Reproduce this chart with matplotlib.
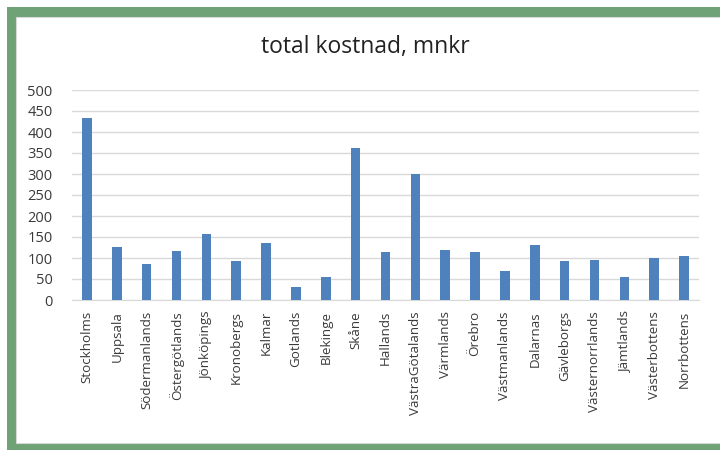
import matplotlib.pyplot as plt
import numpy as np
from matplotlib.patches import Rectangle

regions = ["Stockholms", "Uppsala", "Södermanlands", "Östergötlands", "Jönköpings",
           "Kronobergs", "Kalmar", "Gotlands", "Blekinge", "Skåne", "Hallands",
           "VästraGötalands", "Värmlands", "Örebro", "Västmanlands", "Dalarnas",
           "Gävleborgs", "Västernorrlands", "Jämtlands", "Västerbottens", "Norrbottens"]
cost = [433, 127, 85, 117, 156, 94, 135, 31, 55, 362, 114,
        299, 120, 115, 69, 132, 92, 95, 54, 100, 105]
yticks = [0, 50, 100, 150, 200, 250, 300, 350, 400, 450, 500]

plt.rcParams['font.family'] = ['Open Sans', 'DejaVu Sans']

fig = plt.figure(figsize=(7.2, 4.5), dpi=100)
W, H = 720, 450

# green frame (left, top, bottom), cut off at the right
fig.add_artist(Rectangle((7 / W, 0), 1, 443 / H, transform=fig.transFigure,
                         facecolor="#6fa276", edgecolor="none", zorder=0))
fig.add_artist(Rectangle((16 / W, 7 / H), 1, 426 / H, transform=fig.transFigure,
                         facecolor="white", edgecolor="#d8d8d8", linewidth=0.8, zorder=0))

ax = fig.add_axes([72 / W, (H - 300) / H, (699 - 72) / W, 210 / H])
ax.set_facecolor("none")
x = np.arange(len(regions))
ax.bar(x, cost, width=0.32, color="#4f81bd", zorder=3)

ax.set_xlim(-0.5, len(regions) - 0.5)
ax.set_ylim(0, 500)
ax.set_yticks(yticks)
ax.set_xticks(x, regions, rotation=90)
ax.tick_params(axis="y", length=0, pad=14, labelsize=10.5, labelcolor="#3a3a3a")
ax.tick_params(axis="x", length=0, pad=8, labelsize=9.6, labelcolor="#3a3a3a")
ax.grid(axis="y", color="#d9d9d9", linewidth=1, zorder=0)
for s in ["top", "right", "left"]:
    ax.spines[s].set_visible(False)
ax.spines["bottom"].set_color("#d9d9d9")

fig.text(365 / W, 1 - 47 / H, "total kostnad, mnkr", ha="center", va="center",
         fontsize=16.5, color="#222222")

fig.savefig("out.png", dpi=100)
